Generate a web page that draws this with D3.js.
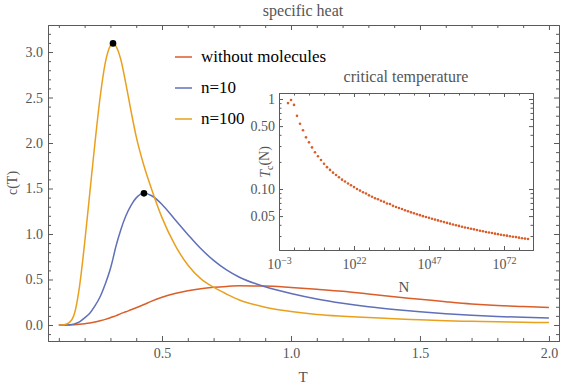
<!DOCTYPE html>
<html><head><meta charset="utf-8">
<script src="https://cdn.jsdelivr.net/npm/d3@7"></script>
<style>body{margin:0;background:#fff} svg text, svg tspan{font-family:'Liberation Serif','Times New Roman','DejaVu Serif',Times,serif !important}</style>
</head><body><svg id="c" width="564" height="389"></svg>
<script>
// ---- main chart data ----
const T      = [0.10,0.12,0.14,0.16,0.18,0.20,0.22,0.24,0.26,0.28,0.30,0.31,0.32,0.34,0.36,0.38,0.40,0.43,0.46,0.50,0.55,0.60,0.65,0.70,0.75,0.80,0.90,1.0,1.1,1.2,1.3,1.4,1.5,1.6,1.7,1.8,1.9,2.0];
const cNoMol = [0,0,0.001,0.003,0.007,0.013,0.021,0.032,0.046,0.062,0.08,0.09,0.10,0.125,0.145,0.168,0.19,0.225,0.262,0.305,0.347,0.377,0.399,0.414,0.424,0.43,0.428,0.412,0.392,0.37,0.34,0.31,0.283,0.255,0.23,0.213,0.203,0.193];
const cN10   = [0,0,0.003,0.012,0.035,0.078,0.13,0.21,0.31,0.45,0.62,0.73,0.85,1.045,1.20,1.315,1.397,1.447,1.42,1.325,1.16,0.995,0.84,0.71,0.605,0.525,0.42,0.345,0.285,0.238,0.20,0.17,0.145,0.124,0.107,0.094,0.084,0.077];
const cN100  = [0,0.003,0.025,0.12,0.42,0.90,1.45,2.0,2.50,2.88,3.07,3.095,3.07,2.92,2.65,2.35,2.07,1.75,1.49,1.18,0.88,0.66,0.51,0.415,0.34,0.275,0.195,0.148,0.116,0.097,0.083,0.068,0.057,0.047,0.040,0.035,0.030,0.026];
const peakT  = [0.31,0.43];
const peakC  = [3.095,1.447];
const seriesNames = ["without molecules","n=10","n=100"];
const xTickVals = [0.5,1.0,1.5,2.0];
const yTickVals = [0.0,0.5,1.0,1.5,2.0,2.5,3.0];

// ---- inset data: N = 10^expN ----
const expN = [0,1,2,3,4,5,6,7,8,9,10,11,12,13,14,15,16,17,18,19,20,21,22,23,24,25,26,27,28,29,30,31,32,33,34,35,36,37,38,39,40,41,42,43,44,45,46,47,48,49,50,51,52,53,54,55,56,57,58,59,60,61,62,63,64,65,66,67,68,69,70,71,72,73,74,75,76,77,78,79,80];
const Tc = [0.90,0.975,0.86,0.65,0.53,0.45,0.375,0.33,0.29,0.256,0.231,0.21,0.191,0.175,0.163,0.152,0.143,0.135,0.127,0.121,0.115,0.110,0.105,0.100,0.096,0.092,0.089,0.085,0.082,0.079,0.077,0.074,0.072,0.069,0.068,0.065,0.063,0.0615,0.060,0.058,0.0565,0.055,0.0537,0.0524,0.0512,0.0499,0.0488,0.0478,0.0468,0.0457,0.0448,0.0438,0.0429,0.0420,0.0412,0.0404,0.0396,0.0389,0.0381,0.0374,0.0368,0.0362,0.0356,0.0350,0.0344,0.0339,0.0333,0.0329,0.0324,0.0319,0.0315,0.0310,0.0306,0.0303,0.0299,0.0295,0.0292,0.0288,0.0284,0.0281,0.0278];
const insetXTickExp = [-3,22,47,72];
const insetYTickVals = [1,0.5,0.1,0.05];
const insetYTickLabels = ["1","0.50","0.10","0.05"];

const FONT="'Liberation Serif','Times New Roman','DejaVu Serif',Times,serif";
const colNoMol="#DA5E2A", colN10="#6070B8", colN100="#E9A01C";
const frameCol="#5a5a5a", textCol="#555";
const svg=d3.select("#c");

// ---- main scales ----
const x=d3.scaleLinear().domain([0.058,2.039]).range([48,559]);
const y=d3.scaleLinear().domain([-0.176,3.297]).range([341,25]);
const xMinor=d3.range(1,21).map(i=>i/10).filter(v=>!xTickVals.some(t=>Math.abs(t-v)<1e-9));
const yMinor=d3.range(-1,33).map(i=>i/10).filter(v=>!yTickVals.some(t=>Math.abs(t-v)<1e-9));

function style(g,size){
  g.attr("font-family",FONT).attr("font-size",size);
  g.select(".domain").attr("stroke",frameCol);
  g.selectAll(".tick line").attr("stroke",frameCol);
  g.selectAll(".tick text").attr("fill",textCol).attr("font-size",size);
}
function axes(xs,ys,xMaj,xMin,yMaj,yMin,xFmt,yFmt,maj,mn,xpad,ypad,size){
  const [x0,x1]=xs.range(), [y0,y1]=ys.range();
  svg.append("g").attr("transform",`translate(0,${y0})`).call(d3.axisBottom(xs).tickValues(xMin).tickSizeInner(-mn).tickSizeOuter(0).tickFormat("")).call(g=>style(g,size));
  svg.append("g").attr("transform",`translate(0,${y1})`).call(d3.axisTop(xs).tickValues(xMin).tickSizeInner(-mn).tickSizeOuter(0).tickFormat("")).call(g=>style(g,size));
  svg.append("g").attr("transform",`translate(${x0},0)`).call(d3.axisLeft(ys).tickValues(yMin).tickSizeInner(-mn).tickSizeOuter(0).tickFormat("")).call(g=>style(g,size));
  svg.append("g").attr("transform",`translate(${x1},0)`).call(d3.axisRight(ys).tickValues(yMin).tickSizeInner(-mn).tickSizeOuter(0).tickFormat("")).call(g=>style(g,size));
  const b=svg.append("g").attr("transform",`translate(0,${y0})`).call(d3.axisBottom(xs).tickValues(xMaj).tickSizeInner(-maj).tickSizeOuter(0).tickPadding(xpad).tickFormat(xFmt)).call(g=>style(g,size));
  svg.append("g").attr("transform",`translate(0,${y1})`).call(d3.axisTop(xs).tickValues(xMaj).tickSizeInner(-maj).tickSizeOuter(0).tickFormat("")).call(g=>style(g,size));
  const l=svg.append("g").attr("transform",`translate(${x0},0)`).call(d3.axisLeft(ys).tickValues(yMaj).tickSizeInner(-maj).tickSizeOuter(0).tickPadding(ypad).tickFormat(yFmt)).call(g=>style(g,size));
  svg.append("g").attr("transform",`translate(${x1},0)`).call(d3.axisRight(ys).tickValues(yMaj).tickSizeInner(-maj).tickSizeOuter(0).tickFormat("")).call(g=>style(g,size));
  return {b,l};
}
axes(x,y,xTickVals,xMinor,yTickVals,yMinor,d3.format(".1f"),d3.format(".1f"),5,3,7,5,14);

// ---- curves ----
const line=d3.line().x(d=>x(d[0])).y(d=>y(d[1])).curve(d3.curveMonotoneX);
[[cNoMol,colNoMol],[cN10,colN10],[cN100,colN100]].forEach(([s,c])=>{
  svg.append("path").attr("d",line(T.map((t,i)=>[t,s[i]]))).attr("fill","none").attr("stroke",c).attr("stroke-width",1.5);
});
svg.selectAll("circle.peak").data(peakT).join("circle").attr("class","peak")
  .attr("cx",d=>x(d)).attr("cy",(d,i)=>y(peakC[i])).attr("r",3.3).attr("fill","#000");

function txt(xp,yp,s,size,col,anchor){
  return svg.append("text").attr("x",xp).attr("y",yp).attr("text-anchor",anchor||"start").attr("font-size",size).attr("font-family",FONT).attr("fill",col).text(s);
}
txt(303,16,"specific heat",16,textCol,"middle");
txt(303,382,"T",15,textCol,"middle");
svg.append("text").attr("transform","translate(17,183) rotate(-90)").attr("text-anchor","middle").attr("font-size",14).attr("font-family",FONT).attr("fill",textCol).text("c(T)");

// legend
const legY=[57,88,119];
[colNoMol,colN10,colN100].forEach((c,i)=>{
  svg.append("line").attr("x1",175).attr("x2",192).attr("y1",legY[i]).attr("y2",legY[i]).attr("stroke",c).attr("stroke-width",1.5);
  txt(201,legY[i]+5,seriesNames[i],17,"#000");
});

// ---- inset ----
const xi=d3.scaleLinear().domain([-3,81.67]).range([279,533]);
const yi=d3.scaleLog().domain([0.021,1.166]).range([250,93]);
const xiMinor=d3.range(-3,82,5).filter(v=>!insetXTickExp.includes(v));
const yiMinor=[0.03,0.04,0.06,0.07,0.08,0.09,0.2,0.3,0.4,0.6,0.7,0.8,0.9];
const ax=axes(xi,yi,insetXTickExp,xiMinor,insetYTickVals,yiMinor,d=>"",(d)=>insetYTickLabels[insetYTickVals.indexOf(d)],4,2.5,6,4,14);
ax.b.selectAll(".tick text").each(function(d){
  const t=d3.select(this).attr("dy","0.95em");
  t.append("tspan").text("10");
  t.append("tspan").attr("font-size",10).attr("dy","-0.55em").text(String(d).replace("-","\u2212"));
});
svg.selectAll("circle.tc").data(Tc).join("circle").attr("class","tc")
  .attr("cx",(d,i)=>xi(expN[i])).attr("cy",d=>yi(d)).attr("r",1.3).attr("fill",colNoMol);
txt(406,82,"critical temperature",16,textCol,"middle");
txt(404,292,"N",15,textCol,"middle");
const tl=svg.append("text").attr("transform","translate(270,162) rotate(-90)").attr("text-anchor","middle").attr("font-size",14).attr("font-family",FONT).attr("fill",textCol);
tl.append("tspan").attr("font-style","italic").text("T");
tl.append("tspan").attr("font-size",10).attr("dy","0.3em").text("c");
tl.append("tspan").attr("dy","-0.3em").text("(N)");
</script></body></html>
